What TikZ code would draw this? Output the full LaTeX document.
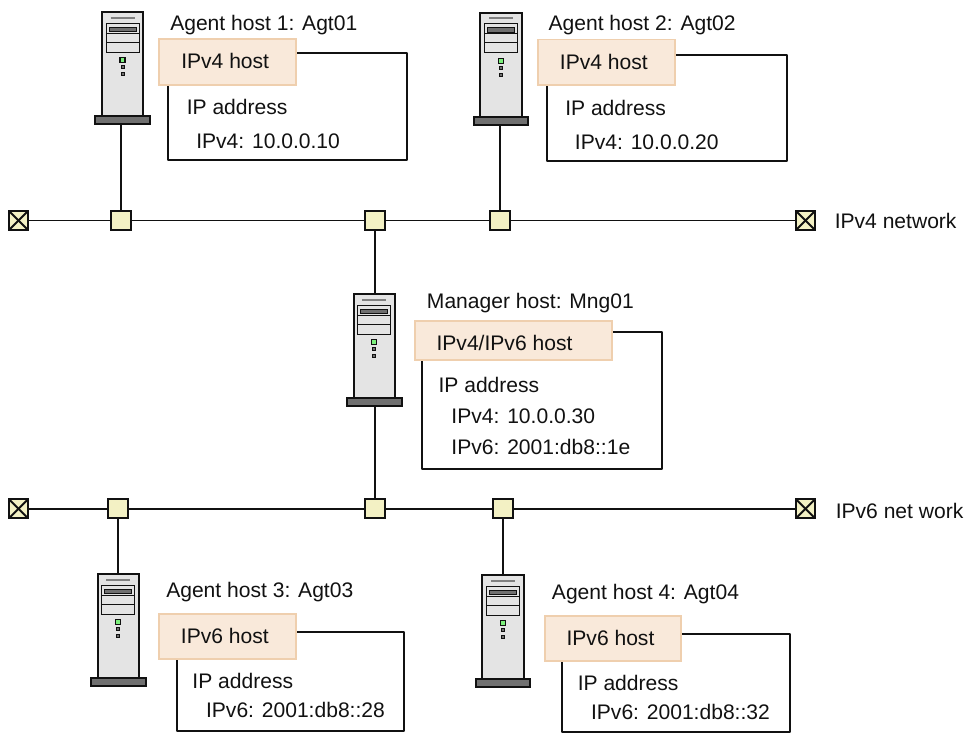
\documentclass[tikz,border=0pt]{standalone}
\usepackage{fontspec}
\setmainfont{Liberation Sans}
\usetikzlibrary{calc}
\definecolor{linegray}{HTML}{111111}
\definecolor{towerfill}{HTML}{E4E4E4}
\definecolor{basefill}{HTML}{707070}
\definecolor{switchfill}{HTML}{F3F1C4}
\definecolor{tagfill}{HTML}{F9E9DA}
\definecolor{tagline}{HTML}{EFCFAE}
\definecolor{ledgreen}{HTML}{7CF07C}
\tikzset{
	label/.style={font=\fontsize{15.8}{18}\selectfont, inner sep=0pt, anchor=base west, text=linegray},
	switch/.style={draw=linegray, line width=1.4pt, fill=switchfill, minimum size=14.5pt, inner sep=0pt},
	endbox/.style={switch, path picture={
		\draw[line width=1.4pt, linegray] (path picture bounding box.north west) -- (path picture bounding box.south east);
		\draw[line width=1.4pt, linegray] (path picture bounding box.north east) -- (path picture bounding box.south west);
	}},
	hostbase/.style={draw=linegray, line width=1.3pt, fill=basefill, minimum width=41pt, minimum height=6pt, inner sep=0pt},
	wire/.style={draw=linegray, line width=1.4pt},
	addrframe/.style={draw=linegray, line width=1.4pt, line join=round},
	hosttag/.style={draw=tagline, line width=1.4pt, fill=tagfill},
}
\def\drawhost(#1,#2)(#3){
	\begin{scope}[shift={(#1,#2)}]
		\draw[line width=1.5pt, draw=linegray, fill=towerfill] (-20.8,0) rectangle (20.8,104);
		\draw[line width=1.5pt, draw=gray] (-12,5.5) -- (12,5.5);
		\draw[line width=0.7pt, draw=linegray, fill=towerfill] (-16.5,11) rectangle (16.5,40);
		\draw[line width=0.7pt, draw=linegray] (-16.5,21) -- (16.5,21);
		\draw[line width=0.7pt, draw=linegray] (-16.5,30) -- (16.5,30);
		\draw[line width=0.6pt, draw=linegray, fill=basefill] (-13.5,15) rectangle (13.5,19.5);
		\draw[line width=0.9pt, draw=linegray, fill=ledgreen] (-2.5,45.5) rectangle (2.5,50.5);
		\draw[line width=0.6pt, draw=linegray, fill=basefill] (-1.5,53.5) rectangle (1.5,56.5);
		\draw[line width=0.6pt, draw=linegray, fill=basefill] (-1.5,60.5) rectangle (1.5,63.5);
		\node[hostbase] (#3) at (0,108) {};
		\coordinate (#3top) at (0,0);
	\end{scope}
}

\begin{document}
\begin{tikzpicture}[x=0.75pt, y=-0.75pt]
	\useasboundingbox (0,0) rectangle (966,733);

	%%%%% NETWORKS %%%%%
	\node[endbox] (v4left) at (18.5,220.5) {};
	\node[switch] (v4sw1) at (121,220.5) {};
	\node[switch] (v4sw2) at (375,220.5) {};
	\node[switch] (v4sw3) at (500,220.5) {};
	\node[endbox] (v4right) at (805.5,220.5) {};
	\draw[wire] (v4left) -- (v4sw1) -- (v4sw2) -- (v4sw3) -- (v4right);
	\node[label] (v4name) at (834.5,228.3) {IPv4 network};

	\node[endbox] (v6left) at (18.5,508.7) {};
	\node[switch] (v6sw1) at (118,508.7) {};
	\node[switch] (v6sw2) at (375,508.7) {};
	\node[switch] (v6sw3) at (503,508.7) {};
	\node[endbox] (v6right) at (805.5,508.7) {};
	\draw[wire] (v6left) -- (v6sw1) -- (v6sw2) -- (v6sw3) -- (v6right);
	\node[label] (v6name) at (835.5,518.2) {IPv6 net work};

	%%%%% HOSTS %%%%%
	\drawhost(122.5,12)(agt1);
	\drawhost(501,12.7)(agt2);
	\drawhost(374.3,294)(mng);
	\drawhost(118.3,574)(agt3);
	\drawhost(503,575.3)(agt4);

	\draw[wire] (v4sw1) -- (v4sw1 |- agt1.south);
	\draw[wire] (v4sw3) -- (v4sw3 |- agt2.south);
	\draw[wire] (v4sw2) -- (v4sw2 |- mngtop);
	\draw[wire] (v6sw2) -- (v6sw2 |- mng.south);
	\draw[wire] (v6sw1) -- (v6sw1 |- agt3top);
	\draw[wire] (v6sw3) -- (v6sw3 |- agt4top);

	%%%%% AGENT 1 %%%%%
	\draw[addrframe] (168.3,53.3) rectangle (407.3,160.3);
	\draw[hosttag] (158.8,38.8) rectangle (295.8,84.8);
	\node[label] (title1) at (170,30) {Agent host 1: Agt01};
	\node[label] (type1) at (181,68.7) {IPv4 host};
	\node[label] (addr1) at (186.5,114) {IP address};
	\node[label] (ip1) at (196,148) {IPv4: 10.0.0.10};

	%%%%% AGENT 2 %%%%%
	\draw[addrframe] (547.3,55) rectangle (786.7,161.3);
	\draw[hosttag] (538,39.5) rectangle (675,85.3);
	\node[label] (title2) at (548.3,30.7) {Agent host 2: Agt02};
	\node[label] (type2) at (559.7,69.3) {IPv4 host};
	\node[label] (addr2) at (565,115) {IP address};
	\node[label] (ip2) at (574.7,149) {IPv4: 10.0.0.20};

	%%%%% MANAGER %%%%%
	\draw[addrframe] (422.3,332) rectangle (661.7,468.7);
	\draw[hosttag] (414.6,320.6) rectangle (612,359.7);
	\node[label] (title3) at (426.7,308.7) {Manager host: Mng01};
	\node[label] (type3) at (436.3,350) {IPv4/IPv6 host};
	\node[label] (addr3) at (438.3,392.2) {IP address};
	\node[label] (ip3a) at (451.2,423.7) {IPv4: 10.0.0.30};
	\node[label] (ip3b) at (451.2,454.2) {IPv6: 2001:db8::1e};

	%%%%% AGENT 3 %%%%%
	\draw[addrframe] (176.7,631.7) rectangle (404.3,730.7);
	\draw[hosttag] (159.3,613.6) rectangle (295.8,659);
	\node[label] (title4) at (166,597.7) {Agent host 3: Agt03};
	\node[label] (type4) at (180.7,643) {IPv6 host};
	\node[label] (addr4) at (192.2,688) {IP address};
	\node[label] (ip4) at (205.8,717.3) {IPv6: 2001:db8::28};

	%%%%% AGENT 4 %%%%%
	\draw[addrframe] (561.7,634) rectangle (790,732);
	\draw[hosttag] (544.6,615.6) rectangle (681.4,661.4);
	\node[label] (title5) at (551.7,599.3) {Agent host 4: Agt04};
	\node[label] (type5) at (566.3,645) {IPv6 host};
	\node[label] (addr5) at (577.5,690) {IP address};
	\node[label] (ip5) at (590.8,719.7) {IPv6: 2001:db8::32};
\end{tikzpicture}
\end{document}
